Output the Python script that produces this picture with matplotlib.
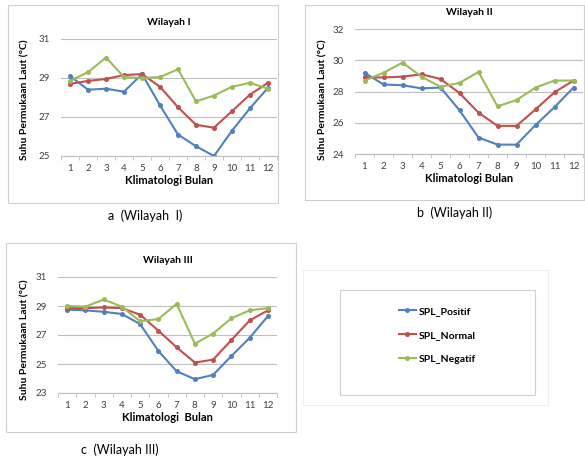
import matplotlib
matplotlib.use('Agg')
import matplotlib.pyplot as plt
from matplotlib.patches import Rectangle
import numpy as np

plt.rcParams.update({
    'font.family': ['Lato', 'DejaVu Sans'],
    'figure.facecolor': 'white',
})

BIRU = '#4F81BD'
MERAH = '#C0504D'
HIJAU = '#9BBB59'
GRID = '#BFBFBF'

bulan = list(range(1, 13))
seri = ['SPL_Positif', 'SPL_Normal', 'SPL_Negatif']

# Wilayah I
w1_positif = [29.1, 28.4, 28.45, 28.3, 29.2, 27.6, 26.1, 25.5, 25.0, 26.3, 27.45, 28.5]
w1_normal = [28.7, 28.85, 28.95, 29.15, 29.2, 28.55, 27.5, 26.6, 26.45, 27.3, 28.15, 28.75]
w1_negatif = [28.85, 29.3, 30.05, 29.05, 29.0, 29.05, 29.45, 27.8, 28.1, 28.55, 28.75, 28.45]

# Wilayah II
w2_positif = [29.2, 28.45, 28.4, 28.2, 28.25, 26.8, 25.05, 24.6, 24.6, 25.85, 27.0, 28.25]
w2_normal = [28.9, 28.9, 28.95, 29.1, 28.8, 27.9, 26.65, 25.8, 25.8, 26.85, 27.95, 28.7]
w2_negatif = [28.7, 29.2, 29.85, 28.95, 28.3, 28.55, 29.25, 27.05, 27.45, 28.25, 28.7, 28.7]

# Wilayah III
w3_positif = [28.75, 28.7, 28.6, 28.45, 27.75, 25.9, 24.5, 23.95, 24.25, 25.55, 26.8, 28.3]
w3_normal = [28.85, 28.85, 28.9, 28.85, 28.4, 27.3, 26.15, 25.1, 25.3, 26.65, 28.0, 28.7]
w3_negatif = [29.0, 28.95, 29.45, 28.95, 27.95, 28.1, 29.15, 26.4, 27.1, 28.15, 28.7, 28.85]

W, H = 585, 459
fig = plt.figure(figsize=(W / 100, H / 100), dpi=100)


def px_ax(l, t, r, b):
    return fig.add_axes([l / W, 1 - b / H, (r - l) / W, (b - t) / H])


def px_box(l, t, r, b, color='#D0D0D0'):
    fig.patches.append(Rectangle((l / W, 1 - b / H), (r - l) / W, (b - t) / H,
                                 transform=fig.transFigure, fill=False,
                                 edgecolor=color, linewidth=0.8))


def panel(pos, ylim, yticks, judul, data, ylab_x, caption, cap_xy, xlabel):
    ax = px_ax(*pos)
    for vals, c in zip(data, [BIRU, MERAH, HIJAU]):
        ax.plot(bulan, vals, color=c, lw=1.5, marker='o', ms=2.6,
                markerfacecolor=c, markeredgecolor=c)
    ax.set_xlim(0.5, 12.5)
    ax.set_ylim(*ylim)
    ax.set_yticks(yticks)
    ax.set_yticklabels([str(v) for v in yticks], fontsize=7, color='#404040')
    ax.set_xticks(bulan)
    ax.set_xticklabels([str(b) for b in bulan], fontsize=7, color='#404040')
    ax.set_xticks(np.arange(0.5, 13, 1), minor=True)
    ax.tick_params(axis='x', which='major', length=0, pad=6)
    ax.tick_params(axis='x', which='minor', length=3, color=GRID)
    ax.tick_params(axis='y', length=0, pad=8)
    for s in ['top', 'right', 'left']:
        ax.spines[s].set_visible(False)
    ax.spines['bottom'].set_color(GRID)
    ax.grid(axis='y', color=GRID, lw=0.8)
    ax.set_axisbelow(True)
    ax.set_xlabel(xlabel, fontsize=8, fontweight='bold', labelpad=1)
    ax.set_title(judul, fontsize=7.5, fontweight='bold', pad=10)
    fig.text(ylab_x[0] / W, 1 - ylab_x[1] / H, 'Suhu Permukaan Laut (°C)',
             rotation=90, ha='center', va='center', fontsize=7.5, fontweight='bold')
    fig.text(cap_xy[0] / W, 1 - cap_xy[1] / H, caption, ha='center', va='center',
             fontsize=9)
    return ax


px_box(8, 5, 278, 203)
panel((61, 39, 277, 156), (25, 31), [25, 27, 29, 31], 'Wilayah I',
      [w1_positif, w1_normal, w1_negatif], (25, 100), 'a  (Wilayah  I)', (145, 216),
      'Klimatologi Bulan')

px_box(305, 5, 584, 200)
panel((355, 29, 583, 154), (24, 32), [24, 26, 28, 30, 32], 'Wilayah II',
      [w2_positif, w2_normal, w2_negatif], (323, 100), 'b  (Wilayah II)', (455, 213),
      'Klimatologi Bulan')

px_box(6, 243, 296, 432)
panel((58, 277, 277, 393), (23, 31), [23, 25, 27, 29, 31], 'Wilayah III',
      [w3_positif, w3_normal, w3_negatif], (25, 340), 'c  (Wilayah III)', (120, 450),
      'Klimatologi  Bulan')

# legenda
px_box(303, 270, 548, 405, color='#EEEEEE')
px_box(340, 290, 535, 395)
lax = px_ax(340, 290, 535, 395)
lax.axis('off')
handles = []
for c, lab in zip([BIRU, MERAH, HIJAU], seri):
    h, = lax.plot([], [], color=c, lw=1.5, marker='o', ms=2.6, label=lab)
    handles.append(h)
lax.legend(handles=handles, loc='center', bbox_to_anchor=(0.5, 0.57),
           frameon=False, handlelength=1.6, handletextpad=0.3, labelspacing=1.4,
           prop={'weight': 'bold', 'size': 7.5})

fig.savefig('out.png', dpi=100, facecolor='white')
